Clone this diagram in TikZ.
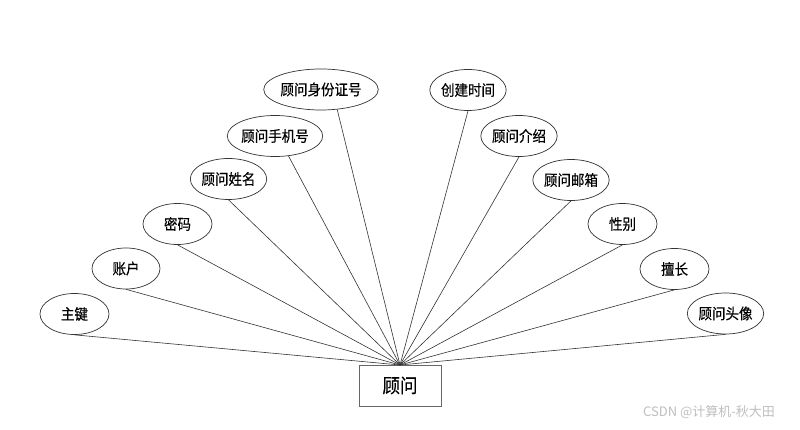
\documentclass[tikz,border=0pt]{standalone}
\usepackage{fontspec}
\setmainfont{Noto Sans CJK SC}
\newfontfamily\cjk[FakeStretch=0.9,FakeBold=0.4]{Noto Sans CJK SC}
\newfontfamily\wmfont{Noto Sans CJK SC}
\usetikzlibrary{shapes.geometric}
\begin{document}
\begin{tikzpicture}[x=1pt,y=-1pt,
  attr/.style={draw=black!80,line width=0.7pt,ellipse,inner sep=0pt,minimum height=41pt,font=\cjk\fontsize{15}{16}\selectfont},
  ent/.style={draw=black!60,line width=0.9pt,rectangle,minimum width=82pt,minimum height=41pt,inner sep=0pt,font=\cjk\fontsize{19.5}{21}\selectfont},
  link/.style={draw=black!80,line width=0.6pt}]
\useasboundingbox (0,0) rectangle (800,430);
\fill[white] (0,0) rectangle (800,430);
\node[ent] (e) at (400,385.5) {顾问};
\coordinate (hub) at (400,365);
\node[attr,minimum width=69pt] (a1) at (74.5,314) {主键};
\node[attr,minimum width=68pt] (a2) at (126,268.5) {账户};
\node[attr,minimum width=69pt] (a3) at (177.5,224) {密码};
\node[attr,minimum width=69pt] (a4) at (228.5,179) {顾问姓名};
\node[attr,minimum width=76pt] (a5) at (275,136) {顾问手机号};
\node[attr,minimum width=92pt] (a6) at (321,89.5) {顾问身份证号};
\node[attr,minimum width=70pt] (a7) at (468,90) {创建时间};
\node[attr,minimum width=69pt] (a8) at (519,136) {顾问介绍};
\node[attr,minimum width=69pt] (a9) at (571,180) {顾问邮箱};
\node[attr,minimum width=69pt] (a10) at (622.5,224) {性别};
\node[attr,minimum width=69pt] (a11) at (674.5,269) {擅长};
\node[attr,minimum width=69pt] (a12) at (725.5,313.5) {顾问头像};
\draw[link] (a1.south) -- (hub);
\draw[link] (a2.south) -- (hub);
\draw[link] (a3.south) -- (hub);
\draw[link] (a4.south) -- (hub);
\draw[link] (a5.-56) -- (hub);
\draw[link] (a6.-51) -- (hub);
\draw[link] (a7.south) -- (hub);
\draw[link] (a8.south) -- (hub);
\draw[link] (a9.south) -- (hub);
\draw[link] (a10.south) -- (hub);
\draw[link] (a11.south) -- (hub);
\draw[link] (a12.south) -- (hub);
\node[text=black!25,font=\wmfont\fontsize{13}{14}\selectfont,inner sep=0pt] (wm) at (709,412) {CSDN @计算机-秋大田};
\end{tikzpicture}
\end{document}
